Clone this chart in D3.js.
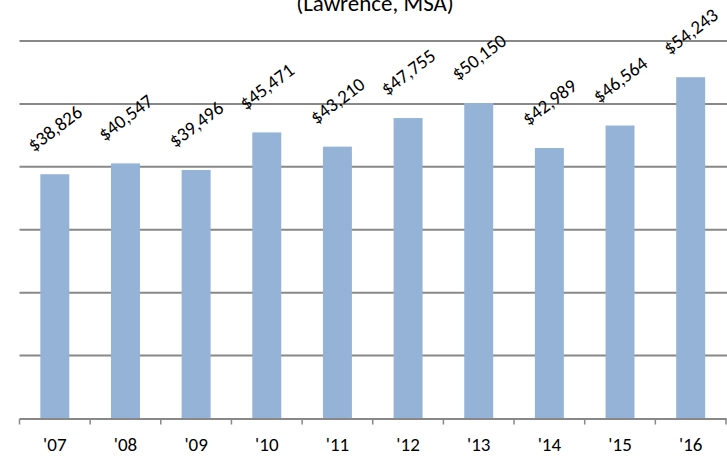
<!DOCTYPE html>
<html>
<head>
<meta charset="utf-8">
<script src="https://cdn.jsdelivr.net/npm/d3@7"></script>
<style>
  body { margin: 0; background: #fff; }
  text { font-family: Carlito, Calibri, "Liberation Sans", sans-serif; fill: #000; }
</style>
</head>
<body>
<div id="chart"></div>
<script>
var years = ["'07", "'08", "'09", "'10", "'11", "'12", "'13", "'14", "'15", "'16"];
var income = [38826, 40547, 39496, 45471, 43210, 47755, 50150, 42989, 46564, 54243];
var yTicks = [0, 10000, 20000, 30000, 40000, 50000, 60000];
var title = "(Lawrence, MSA)";

var W = 727, H = 456;
var margin = {top: 41, right: 1, bottom: 37.5, left: 19.5},
  width = W - margin.left - margin.right,
  height = H - margin.top - margin.bottom;

var svg = d3.select("#chart")
  .append("svg")
  .attr("width", W)
  .attr("height", H);

// title, cut off at the top as in the source image
svg.append("text")
  .attr("x", 375)
  .attr("y", 11)
  .attr("text-anchor", "middle")
  .style("font-size", "23px")
  .text(title);

var g = svg.append("g")
  .attr("transform", "translate(" + margin.left + "," + margin.top + ")");

var x = d3.scaleBand()
  .domain(years)
  .range([0, width])
  .paddingInner(0.59)
  .paddingOuter(0.295);

var y = d3.scaleLinear()
  .domain([0, 60000])
  .range([height, 0]);

// gridlines
g.selectAll(".grid")
  .data(yTicks.slice(1))
  .join("line")
  .attr("class", "grid")
  .attr("x1", 0)
  .attr("x2", W - margin.left)
  .attr("y1", function(d) { return y(d); })
  .attr("y2", function(d) { return y(d); })
  .attr("stroke", "#888")
  .attr("stroke-width", 2);

// bars
g.selectAll(".bar")
  .data(income)
  .join("rect")
  .attr("class", "bar")
  .attr("x", function(d, i) { return x(years[i]); })
  .attr("width", x.bandwidth())
  .attr("y", function(d) { return y(d); })
  .attr("height", function(d) { return height - y(d); })
  .attr("fill", "#95b3d7");

// x axis
var xAxis = g.append("g")
  .attr("transform", "translate(0," + height + ")")
  .call(d3.axisBottom(x).tickSize(0).tickPadding(19));
xAxis.select(".domain").attr("stroke", "#888").attr("stroke-width", 2);
xAxis.selectAll("text").style("font-size", "19px").attr("font-family", null);

// tick marks sit between the categories
var edges = years.map(function(d) { return x(d) - x.step() * x.paddingInner() / 2; });
edges.push(width);
edges[0] = 0;
xAxis.selectAll(".edge")
  .data(edges)
  .join("line")
  .attr("class", "edge")
  .attr("x1", function(d) { return d; })
  .attr("x2", function(d) { return d; })
  .attr("y1", 0)
  .attr("y2", 6)
  .attr("stroke", "#888")
  .attr("stroke-width", 1.5);

// value labels
g.selectAll(".lbl")
  .data(income)
  .join("text")
  .attr("class", "lbl")
  .attr("transform", function(d, i) {
    var cx = x(years[i]) + x.bandwidth() / 2;
    return "translate(" + cx + "," + (y(d) - 46) + ") rotate(-37)";
  })
  .attr("text-anchor", "middle")
  .attr("dominant-baseline", "central")
  .style("font-size", "19px")
  .text(function(d) { return "$" + d3.format(",")(d); });
</script>
</body>
</html>
